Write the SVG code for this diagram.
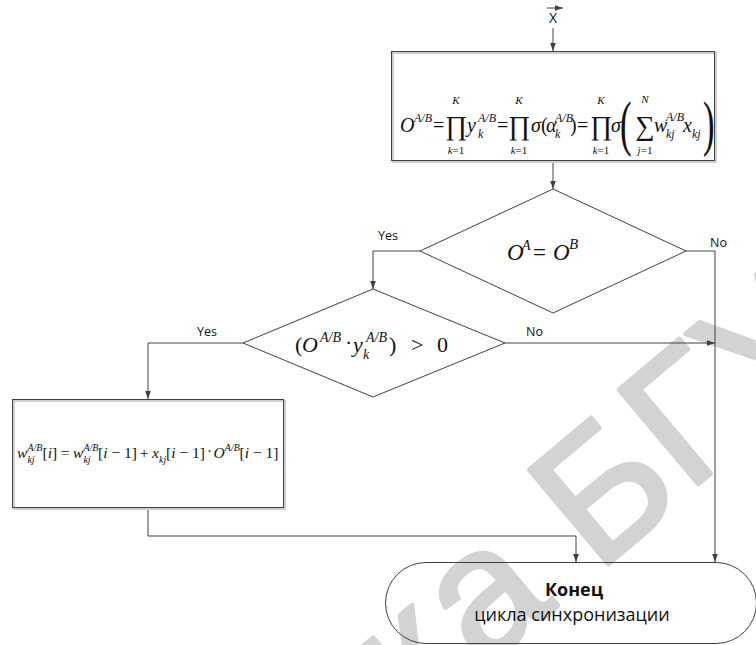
<svg xmlns="http://www.w3.org/2000/svg" width="756" height="645" viewBox="0 0 756 645">
<defs>
<style>
.ln{stroke:#404040;stroke-width:1;fill:none}
.sh{stroke:#404040;stroke-width:1;fill:none}
.shd{stroke:#cfcfcf;stroke-width:2;fill:none}
.m{font-family:"Liberation Serif",serif;font-style:italic;fill:#111}
.r{font-family:"Liberation Serif",serif;font-style:normal;fill:#111}
.i{font-style:italic}
.op{font-family:"Liberation Serif",serif;font-size:27px;fill:#111;text-anchor:middle}
.lbl{font-family:"Open Sans",sans-serif;font-size:12.5px;fill:#111}
.wm{font-family:"Liberation Sans",sans-serif;font-size:180px;fill:#d3d3d3;stroke:#d3d3d3;stroke-width:4;stroke-linejoin:round}
</style>
<marker id="ah" viewBox="0 0 10 10" refX="10" refY="5" markerWidth="8" markerHeight="8" markerUnits="userSpaceOnUse" orient="auto">
<path d="M0,1.5 L10,5 L0,8.5 z" fill="#404040"/>
</marker>
</defs>
<rect width="756" height="645" fill="#ffffff"/>
<g id="watermark">
<text class="wm" transform="translate(413,728) rotate(-40)">к</text>
<text class="wm" transform="translate(482,670) rotate(-40)">а</text>
<text class="wm" transform="translate(597,574) rotate(-40)">Б</text>
<text class="wm" transform="translate(687,494) rotate(-40)">Г</text>
<text class="wm" transform="translate(761,432) rotate(-40)">У</text>
</g>
<g id="connectors">
<line class="ln" x1="547" y1="8" x2="563" y2="8" marker-end="url(#ah)"/>
<line class="ln" x1="553" y1="28" x2="553" y2="51" marker-end="url(#ah)"/>
<line class="ln" x1="553" y1="161" x2="553" y2="189" marker-end="url(#ah)"/>
<polyline class="ln" points="420,251 373,251 373,289" marker-end="url(#ah)"/>
<polyline class="ln" points="686,251 715,251 715,562" marker-end="url(#ah)"/>
<line class="ln" x1="505" y1="343" x2="715" y2="343" marker-end="url(#ah)"/>
<polyline class="ln" points="243,343 148,343 148,399" marker-end="url(#ah)"/>
<polyline class="ln" points="148,508 148,536 576,536 576,562" marker-end="url(#ah)"/>
<text class="lbl" x="378" y="240">Yes</text>
<text class="lbl" x="710" y="247">No</text>
<text class="lbl" x="197" y="336">Yes</text>
<text class="lbl" x="526" y="336">No</text>
</g>
<g id="input">
<text x="553" y="23" text-anchor="middle" font-family="Open Sans, sans-serif" font-size="14" fill="#111">X</text>
</g>
<g id="box1">
<rect class="shd" x="393" y="53" width="323" height="109"/>
<rect class="sh" x="391.5" y="51.5" width="323" height="109" fill="#fff"/>
<text class="m" x="400" y="132" font-size="20">O</text>
<text class="m" x="414" y="122" font-size="12">A/B</text>
<text class="r" x="433" y="132" font-size="20">=</text>
<text class="op" x="456" y="135">∏</text>
<text class="m" x="456" y="104" font-size="11" text-anchor="middle">K</text>
<text class="r" x="456" y="154" font-size="11" text-anchor="middle"><tspan class="i">k</tspan>=1</text>
<text class="m" x="467" y="132" font-size="20">y</text>
<text class="m" x="478" y="122" font-size="12">A/B</text>
<text class="m" x="478" y="138" font-size="12">k</text>
<text class="r" x="497" y="132" font-size="20">=</text>
<text class="op" x="519" y="135">∏</text>
<text class="m" x="519" y="104" font-size="11" text-anchor="middle">K</text>
<text class="r" x="519" y="154" font-size="11" text-anchor="middle"><tspan class="i">k</tspan>=1</text>
<text class="m" x="531" y="132" font-size="20">σ</text>
<text class="r" x="541" y="132" font-size="20">(</text>
<text class="m" x="546" y="132" font-size="20">α</text>
<text class="m" x="555" y="122" font-size="12">A/B</text>
<text class="m" x="555" y="138" font-size="12">k</text>
<text class="r" x="570" y="132" font-size="20">)</text>
<text class="r" x="577" y="132" font-size="20">=</text>
<text class="op" x="601" y="135">∏</text>
<text class="m" x="601" y="104" font-size="11" text-anchor="middle">K</text>
<text class="r" x="601" y="154" font-size="11" text-anchor="middle"><tspan class="i">k</tspan>=1</text>
<text class="m" x="611" y="132" font-size="20">σ</text>
<text class="r" transform="translate(620,144) scale(0.6,1.05)" font-size="58">(</text>
<text class="op" x="645" y="135">∑</text>
<text class="m" x="645" y="103" font-size="11" text-anchor="middle">N</text>
<text class="r" x="645" y="154" font-size="11" text-anchor="middle"><tspan class="i">j</tspan>=1</text>
<text class="m" x="654" y="132" font-size="20">w</text>
<text class="m" x="666" y="121" font-size="12">A/B</text>
<text class="m" x="666" y="138" font-size="12">kj</text>
<text class="m" x="683" y="132" font-size="20">x</text>
<text class="m" x="692" y="138" font-size="12">kj</text>
<text class="r" transform="translate(703,144) scale(0.6,1.05)" font-size="58">)</text>
</g>
<g id="decision1">
<polygon class="sh" points="553,189 686,251 553,313 420,251"/>
<text class="m" x="507" y="260" font-size="23">O</text>
<text class="m" x="522" y="250" font-size="14">A</text>
<text class="r" x="533" y="260" font-size="23">=</text>
<text class="m" x="553" y="260" font-size="23">O</text>
<text class="m" x="569" y="249" font-size="15">B</text>
</g>
<g id="decision2">
<polygon class="sh" points="373,289 505,343 373,397 243,343"/>
<text class="r" x="295" y="352" font-size="22">(</text>
<text class="m" x="302" y="352" font-size="22">O</text>
<text class="m" x="320" y="342" font-size="14">A/B</text>
<text class="r" x="345" y="350" font-size="22">·</text>
<text class="m" x="353" y="352" font-size="22">y</text>
<text class="m" x="366" y="342" font-size="14">A/B</text>
<text class="m" x="363" y="359" font-size="14">k</text>
<text class="r" x="389" y="352" font-size="22">)</text>
<text class="r" x="411" y="352" font-size="22">&gt;</text>
<text class="r" x="437" y="352" font-size="22">0</text>
</g>
<g id="box2">
<rect class="shd" x="14" y="401" width="271" height="108"/>
<rect class="sh" x="12.5" y="399.5" width="271" height="108" fill="#fff"/>
<text class="m" x="17" y="458" font-size="15.5">w</text>
<text class="m" x="27.4" y="451" font-size="10">A/B</text>
<text class="m" x="27.4" y="463" font-size="10">kj</text>
<text class="r" x="42.5" y="458" font-size="15.5">[<tspan class="i">i</tspan>]</text>
<text class="r" x="60.7" y="458" font-size="15.5">=</text>
<text class="m" x="73" y="458" font-size="15.5">w</text>
<text class="m" x="83.4" y="451" font-size="10">A/B</text>
<text class="m" x="83.4" y="463" font-size="10">kj</text>
<text class="r" x="98.1" y="458" font-size="15.5">[<tspan class="i">i</tspan> − 1]</text>
<text class="r" x="139.7" y="458" font-size="15.5">+</text>
<text class="m" x="152" y="458" font-size="15.5">x</text>
<text class="m" x="159" y="463" font-size="10">kj</text>
<text class="r" x="166.1" y="458" font-size="15.5">[<tspan class="i">i</tspan> − 1]</text>
<text class="r" x="207" y="456" font-size="15.5">·</text>
<text class="m" x="213.6" y="458" font-size="15.5">O</text>
<text class="m" x="224.8" y="451" font-size="10">A/B</text>
<text class="r" x="239.6" y="458" font-size="15.5">[<tspan class="i">i</tspan> − 1]</text>
</g>
<g id="end">
<rect class="sh" x="385.5" y="562.5" width="371" height="81" rx="40.5"/>
<text x="574" y="596" text-anchor="middle" font-family="Open Sans, sans-serif" font-size="18" font-weight="bold" fill="#111">Конец</text>
<text x="572" y="621" text-anchor="middle" font-family="Open Sans, sans-serif" font-size="18" fill="#111">цикла синхронизации</text>
</g>
</svg>
